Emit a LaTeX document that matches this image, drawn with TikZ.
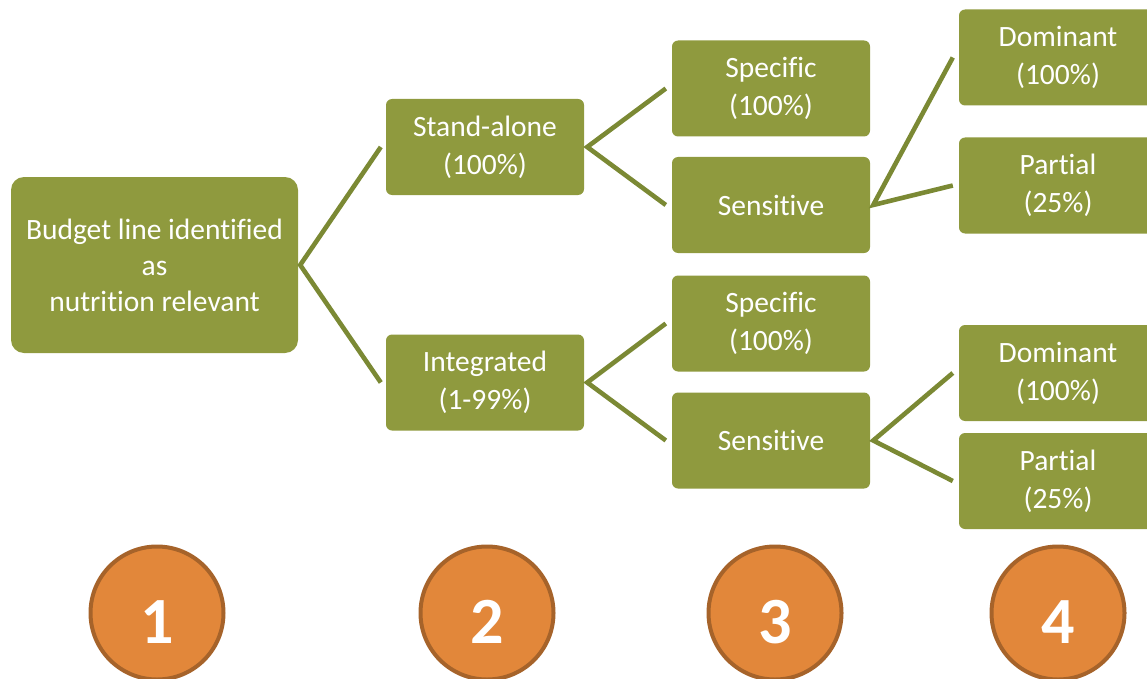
\documentclass[tikz,border=0pt]{standalone}
\usepackage{fontspec}
\setmainfont[Ligatures=NoCommon]{Carlito}
\definecolor{boxgreen}{HTML}{8F9A3E}
\definecolor{linegreen}{HTML}{7B8934}
\definecolor{numorange}{HTML}{E2873A}
\definecolor{numbrown}{HTML}{A6632A}
\begin{document}
\begin{tikzpicture}[x=1pt,y=-1pt,
  box/.style={fill=boxgreen, rounded corners=6pt, minimum width=198pt, minimum height=96pt,
    inner sep=0pt, align=center, text=white, font=\fontsize{29.5}{38}\selectfont},
  rootbox/.style={box, minimum width=287pt, minimum height=176pt, rounded corners=13pt,
    font=\fontsize{29.5}{36}\selectfont},
  conn/.style={draw=linegreen, line width=4.6pt, line join=miter},
  num/.style={circle, fill=numorange, draw=numbrown, line width=4pt, minimum size=133pt, inner sep=0pt},
  numtext/.style={text=white, font=\fontsize{66}{66}\selectfont\bfseries, inner sep=0pt}]
\useasboundingbox (0,0) rectangle (1147,679);
\clip (0,0) rectangle (1147,679);

\node[rootbox] (root) at (154.5,265) {Budget line identified\\as\\nutrition relevant};
\node[box] (sa) at (485,147) {Stand-alone\\(100\%)};
\node[box] (int) at (485,382.5) {Integrated\\(1-99\%)};
\node[box] (sp1) at (771,88.5) {Specific\\(100\%)};
\node[box] (se1) at (771,205) {Sensitive};
\node[box] (sp2) at (771,323.5) {Specific\\(100\%)};
\node[box] (se2) at (771,440.5) {Sensitive};
\node[box] (do1) at (1058,57.5) {Dominant\\(100\%)};
\node[box] (pa1) at (1058,185.5) {Partial\\(25\%)};
\node[box] (do2) at (1058,373) {Dominant\\(100\%)};
\node[box] (pa2) at (1058,481) {Partial\\(25\%)};

\draw[conn] ([xshift=-5pt]sa.west) -- ([xshift=2pt]root.east) -- ([xshift=-5pt]int.west);
\draw[conn] ([xshift=-6pt]sp1.west) -- ([xshift=3pt]sa.east) -- ([xshift=-6pt]se1.west);
\draw[conn] ([xshift=-6pt]sp2.west) -- ([xshift=3pt]int.east) -- ([xshift=-6pt]se2.west);
\draw[conn] ([xshift=-6pt]do1.west) -- ([xshift=3pt]se1.east) -- ([xshift=-6pt]pa1.west);
\draw[conn] ([xshift=-6pt]do2.west) -- ([xshift=3pt]se2.east) -- ([xshift=-6pt]pa2.west);

\node[num] (c1) at (157,613) {};
\node[num] (c2) at (487,613) {};
\node[num] (c3) at (775,613) {};
\node[num] (c4) at (1058,613) {};
\node[numtext] (n1) at (157,622) {1};
\node[numtext] (n2) at (487,622) {2};
\node[numtext] (n3) at (775,622) {3};
\node[numtext] (n4) at (1058,622) {4};
\end{tikzpicture}
\end{document}
